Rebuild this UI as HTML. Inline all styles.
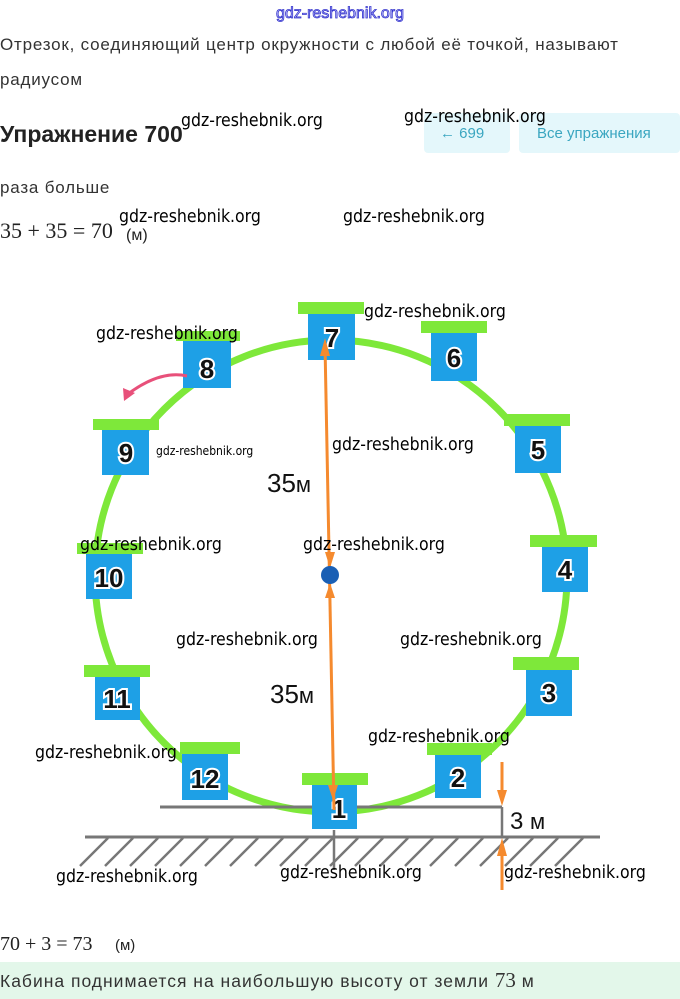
<!DOCTYPE html>
<html><head><meta charset="utf-8"><style>
body{margin:0;width:680px;height:999px;overflow:hidden;background:#fff;font-family:"Liberation Sans",sans-serif;}
svg{position:absolute;left:0;top:0}
</style></head><body>
<svg width="680" height="999" viewBox="0 0 680 999">
<g font-family="Liberation Sans, sans-serif">
<text x="340" y="18" text-anchor="middle" font-size="16" fill="#c8c8ff" stroke="#3333cc" stroke-width="0.8">gdz-reshebnik.org</text>
<text x="0" y="50" font-size="17" letter-spacing="0.8" fill="#333">Отрезок, соединяющий центр окружности с любой её точкой, называют</text>
<text x="0" y="85" font-size="17" letter-spacing="0.8" fill="#333">радиусом</text>
<text x="0" y="142" font-size="23" font-weight="bold" fill="#222">Упражнение 700</text>
<rect x="424" y="113" width="86" height="40" rx="4" fill="#e4f7fb"/>
<rect x="519" y="113" width="161" height="40" rx="4" fill="#e4f7fb"/>
<text x="440" y="138" font-size="15" fill="#3aa6c0">←  699</text>
<text x="537" y="138" font-size="15" fill="#3aa6c0">Все упражнения</text>
<text x="0" y="193" font-size="17" letter-spacing="0.8" fill="#333">раза больше</text>
<text x="0" y="238" font-size="22" font-family="Liberation Serif, serif" fill="#222">35 + 35 = 70</text>
<text x="126" y="240" font-size="16" fill="#222">(м)</text>
</g>

<circle cx="331" cy="576" r="236" fill="none" stroke="#7ee83a" stroke-width="7"/>
<line x1="160" y1="807" x2="502" y2="807" stroke="#777" stroke-width="3"/>
<line x1="85" y1="837" x2="600" y2="837" stroke="#777" stroke-width="3"/>
<g stroke="#777" stroke-width="2.5">
<line x1="108" y1="838" x2="80" y2="866"/><line x1="133" y1="838" x2="105" y2="866"/><line x1="158" y1="838" x2="130" y2="866"/><line x1="183" y1="838" x2="155" y2="866"/><line x1="208" y1="838" x2="180" y2="866"/><line x1="233" y1="838" x2="205" y2="866"/><line x1="258" y1="838" x2="230" y2="866"/><line x1="283" y1="838" x2="255" y2="866"/><line x1="308" y1="838" x2="280" y2="866"/><line x1="333" y1="838" x2="305" y2="866"/><line x1="358" y1="838" x2="330" y2="866"/><line x1="383" y1="838" x2="355" y2="866"/><line x1="408" y1="838" x2="380" y2="866"/><line x1="433" y1="838" x2="405" y2="866"/><line x1="458" y1="838" x2="430" y2="866"/><line x1="483" y1="838" x2="455" y2="866"/><line x1="508" y1="838" x2="480" y2="866"/><line x1="533" y1="838" x2="505" y2="866"/><line x1="558" y1="838" x2="530" y2="866"/><line x1="583" y1="838" x2="555" y2="866"/>
</g>
<line x1="334" y1="830" x2="334" y2="870" stroke="#777" stroke-width="2.5"/>
<line x1="502" y1="807" x2="502" y2="837" stroke="#777" stroke-width="2.5"/>
<g fill="#7ee83a">
<rect x="298" y="302" width="66" height="12"/><rect x="176" y="331" width="64" height="10"/><rect x="421" y="321" width="66" height="12"/>
<rect x="93" y="419" width="66" height="11"/><rect x="504" y="414" width="66" height="12"/><rect x="77" y="543" width="66" height="11"/>
<rect x="530" y="535" width="67" height="12"/><rect x="84" y="665" width="66" height="12"/><rect x="513" y="657" width="66" height="13"/>
<rect x="180" y="742" width="60" height="12"/><rect x="302" y="773" width="66" height="12"/><rect x="427" y="743" width="65" height="12"/>
</g>
<g fill="#1ea0e6">
<rect x="308" y="314" width="47" height="46"/><rect x="183" y="341" width="48" height="47"/><rect x="431" y="333" width="46" height="48"/>
<rect x="102" y="430" width="47" height="45"/><rect x="515" y="426" width="46" height="47"/><rect x="86" y="554" width="46" height="45"/>
<rect x="542" y="547" width="46" height="45"/><rect x="95" y="677" width="45" height="43"/><rect x="526" y="670" width="46" height="46"/>
<rect x="182" y="754" width="46" height="46"/><rect x="312" y="785" width="45" height="44"/><rect x="435" y="755" width="46" height="43"/>
</g>
<g font-family="Liberation Sans, sans-serif" font-weight="bold" font-size="26" fill="#111" stroke="#fff" stroke-width="4" paint-order="stroke" text-anchor="middle">
<text x="332" y="347">7</text><text x="207" y="378">8</text><text x="454" y="367">6</text>
<text x="126" y="462">9</text><text x="538" y="459">5</text><text x="109" y="587">10</text>
<text x="565" y="579">4</text><text x="117" y="708">11</text><text x="549" y="702">3</text>
<text x="205" y="788">12</text><text x="339" y="818">1</text><text x="458" y="787">2</text>
</g>
<line x1="334" y1="810" x2="325" y2="345" stroke="#f58a2e" stroke-width="3"/>
<polygon points="325,338 320,356 330,356" fill="#f58a2e"/>
<polygon points="330,568 325,552 335,552" fill="#f58a2e"/>
<polygon points="330,583 325,598 335,598" fill="#f58a2e"/>
<polygon points="333,800 328,785 338,785" fill="#f58a2e"/>
<circle cx="330" cy="575" r="9" fill="#1a5fb4"/>
<line x1="502" y1="762" x2="502" y2="800" stroke="#f58a2e" stroke-width="3"/>
<polygon points="502,806 497,790 507,790" fill="#f58a2e"/>
<line x1="502" y1="845" x2="502" y2="890" stroke="#f58a2e" stroke-width="3"/>
<polygon points="502,838 497,856 507,856" fill="#f58a2e"/>
<path d="M187 376 Q160 370 128 394" fill="none" stroke="#e8507a" stroke-width="3"/>
<polygon points="124,401 123,388 135,393" fill="#e8507a"/>
<g font-family="Liberation Sans, sans-serif" fill="#111">
<text x="267" y="492" font-size="26">35<tspan font-size="22">м</tspan></text>
<text x="270" y="703" font-size="26">35<tspan font-size="22">м</tspan></text>
<text x="510" y="829" font-size="24">3 <tspan font-size="22">м</tspan></text>
</g>
<g font-family="DejaVu Sans Condensed, Liberation Sans, sans-serif" font-size="17.5" fill="#000">
<text x="181" y="126">gdz-reshebnik.org</text><text x="404" y="122">gdz-reshebnik.org</text>
<text x="119" y="222">gdz-reshebnik.org</text><text x="343" y="222">gdz-reshebnik.org</text>
<text x="364" y="317">gdz-reshebnik.org</text><text x="96" y="339">gdz-reshebnik.org</text>
<text x="332" y="450">gdz-reshebnik.org</text><text x="156" y="455" font-size="12">gdz-reshebnik.org</text>
<text x="80" y="550">gdz-reshebnik.org</text><text x="303" y="550">gdz-reshebnik.org</text>
<text x="176" y="645">gdz-reshebnik.org</text><text x="400" y="645">gdz-reshebnik.org</text>
<text x="368" y="742">gdz-reshebnik.org</text><text x="35" y="758">gdz-reshebnik.org</text>
<text x="56" y="882">gdz-reshebnik.org</text><text x="280" y="878">gdz-reshebnik.org</text><text x="504" y="878">gdz-reshebnik.org</text>
</g>
<g font-family="Liberation Sans, sans-serif">
<text x="0" y="950" font-size="20" font-family="Liberation Serif, serif" fill="#222">70 + 3 = 73</text>
<text x="115" y="950" font-size="15" fill="#222">(м)</text>
<rect x="0" y="962" width="680" height="37" fill="#e3f7ea"/>
<text x="0" y="987" font-size="17.5" letter-spacing="1" fill="#333">Кабина поднимается на наибольшую высоту от земли <tspan font-family="Liberation Serif, serif" font-size="21" letter-spacing="0">73</tspan> м</text>
</g>
</svg>
</body></html>
